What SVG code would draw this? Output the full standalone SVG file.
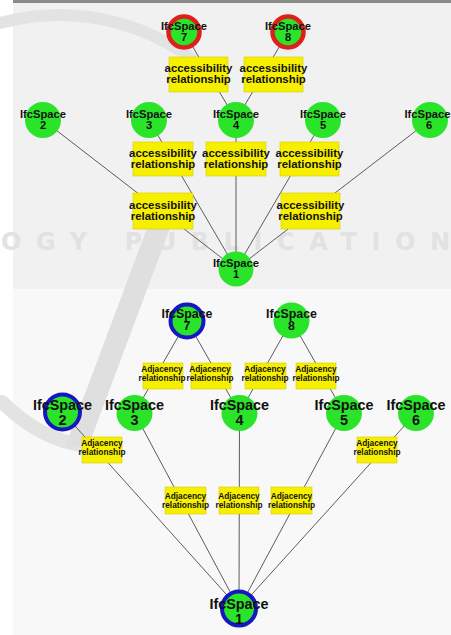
<svg xmlns="http://www.w3.org/2000/svg" width="451" height="635" viewBox="0 0 451 635">
  <style>
    .bg-top { fill: #f1f1f1; }
    .bg-bot { fill: #f8f8f8; }
    .wm-line { fill: none; stroke: #e3e3e3; stroke-linecap: round; }
    .wm-text { font-family: "DejaVu Sans", sans-serif; font-weight: bold; fill: #e2e2e2; text-anchor: start; }
    .e { stroke: #5c5c5c; stroke-width: 1; fill: none; }
    .n { fill: #2ae42a; }
    .ring-red { stroke: #de1f1c; stroke-width: 4.5; }
    .ring-blue { stroke: #1616c2; stroke-width: 4; }
    .lbl { fill: #f7ef00; stroke: #d6cc00; stroke-width: 0.6; }
    text { font-family: "Liberation Sans", Arial, sans-serif; font-weight: bold; fill: #111; text-anchor: middle; }
    .t-sm { font-size: 11.2px; }
    .t-acc { font-size: 11.4px; }
    .t-adj { font-size: 8.3px; }
    .t-mid { font-size: 12.4px; }
    .t-big { font-size: 14.4px; }
  </style>

  <!-- page and the two panels -->
  <rect x="0" y="0" width="451" height="635" fill="#ffffff"/>
  <rect class="bg-top" x="13" y="3" width="438" height="286"/>
  <rect x="13" y="0" width="438" height="3" fill="#8a8a8a"/>
  <rect class="bg-bot" x="13" y="289" width="438" height="346"/>

  <!-- faint publisher watermark -->
  <g id="watermark">
    <text class="wm-text" x="1" y="250" font-size="24" textLength="449" lengthAdjust="spacing">OGY PUBLICATION</text>
    <path class="wm-line" stroke-width="12" d="M 0 23 A 225 225 0 0 1 215 78"/>
    <path class="wm-line" stroke-width="14" d="M 2 402 Q 40 440 86 446"/>
    <polygon points="152,215 175,215 88,447 65,447" fill="#dfdfdf"/>
  </g>

  <!-- connectors -->
  <g id="connectors">
    <!-- accessibility graph -->
    <line class="e" x1="184" y1="32" x2="236" y2="120"/>
    <line class="e" x1="288" y1="32" x2="236" y2="120"/>
    <line class="e" x1="43" y1="120" x2="236" y2="269"/>
    <line class="e" x1="149" y1="120" x2="236" y2="269"/>
    <line class="e" x1="236" y1="120" x2="236" y2="269"/>
    <line class="e" x1="323" y1="120" x2="236" y2="269"/>
    <line class="e" x1="430" y1="120" x2="236" y2="269"/>
    <!-- adjacency graph -->
    <line class="e" x1="187" y1="321" x2="134.5" y2="413"/>
    <line class="e" x1="187" y1="321" x2="239.5" y2="413"/>
    <line class="e" x1="291.5" y1="320.5" x2="239.5" y2="413"/>
    <line class="e" x1="291.5" y1="320.5" x2="344" y2="413"/>
    <line class="e" x1="62.5" y1="412" x2="239" y2="608.5"/>
    <line class="e" x1="134.5" y1="413" x2="239" y2="608.5"/>
    <line class="e" x1="239.5" y1="413" x2="239" y2="608.5"/>
    <line class="e" x1="344" y1="413" x2="239" y2="608.5"/>
    <line class="e" x1="416" y1="413" x2="239" y2="608.5"/>
  </g>

  <!-- accessibility relationship labels -->
  <g id="acc-7-4"><rect class="lbl" x="169" y="57" width="59" height="35"/>
    <text class="t-acc" x="198.5" y="71.5">accessibility<tspan x="198.5" dy="11">relationship</tspan></text></g>
  <g id="acc-8-4"><rect class="lbl" x="244" y="57" width="59" height="35"/>
    <text class="t-acc" x="273.5" y="71.5">accessibility<tspan x="273.5" dy="11">relationship</tspan></text></g>
  <g id="acc-3-1"><rect class="lbl" x="133" y="142" width="60" height="34"/>
    <text class="t-acc" x="163" y="157">accessibility<tspan x="163" dy="11">relationship</tspan></text></g>
  <g id="acc-4-1"><rect class="lbl" x="206" y="142" width="60" height="34"/>
    <text class="t-acc" x="236" y="157">accessibility<tspan x="236" dy="11">relationship</tspan></text></g>
  <g id="acc-5-1"><rect class="lbl" x="280" y="142" width="59" height="34"/>
    <text class="t-acc" x="309.5" y="157">accessibility<tspan x="309.5" dy="11">relationship</tspan></text></g>
  <g id="acc-2-1"><rect class="lbl" x="133" y="193" width="60" height="36"/>
    <text class="t-acc" x="163" y="208.5">accessibility<tspan x="163" dy="11">relationship</tspan></text></g>
  <g id="acc-6-1"><rect class="lbl" x="281" y="193" width="59" height="36"/>
    <text class="t-acc" x="310.5" y="208.5">accessibility<tspan x="310.5" dy="11">relationship</tspan></text></g>

  <!-- accessibility graph nodes -->
  <g id="a-space7"><circle class="n ring-red" cx="184" cy="32" r="15.5"/>
    <text class="t-sm" x="184" y="30">IfcSpace<tspan x="184" dy="10.8">7</tspan></text></g>
  <g id="a-space8"><circle class="n ring-red" cx="288" cy="32" r="15.5"/>
    <text class="t-sm" x="288" y="30">IfcSpace<tspan x="288" dy="10.8">8</tspan></text></g>
  <g id="a-space2"><circle class="n" cx="43" cy="120" r="18"/>
    <text class="t-sm" x="43" y="118">IfcSpace<tspan x="43" dy="11">2</tspan></text></g>
  <g id="a-space3"><circle class="n" cx="149" cy="120" r="18"/>
    <text class="t-sm" x="149" y="118">IfcSpace<tspan x="149" dy="11">3</tspan></text></g>
  <g id="a-space4"><circle class="n" cx="236" cy="120" r="18"/>
    <text class="t-sm" x="236" y="118">IfcSpace<tspan x="236" dy="11">4</tspan></text></g>
  <g id="a-space5"><circle class="n" cx="323" cy="120" r="18"/>
    <text class="t-sm" x="323" y="118">IfcSpace<tspan x="323" dy="11">5</tspan></text></g>
  <g id="a-space6"><circle class="n" cx="430" cy="120" r="18"/>
    <text class="t-sm" x="427.5" y="118">IfcSpace<tspan x="429" dy="11">6</tspan></text></g>
  <g id="a-space1"><circle class="n" cx="236" cy="269" r="17.5"/>
    <text class="t-sm" x="236" y="267">IfcSpace<tspan x="236" dy="11">1</tspan></text></g>

  <!-- adjacency relationship labels -->
  <g id="adj-7-3"><rect class="lbl" x="143" y="363" width="40" height="26"/>
    <text class="t-adj" x="162" y="372">Adjacency<tspan x="162" dy="8.5">relationship</tspan></text></g>
  <g id="adj-7-4"><rect class="lbl" x="191" y="363" width="40" height="26"/>
    <text class="t-adj" x="210" y="372">Adjacency<tspan x="210" dy="8.5">relationship</tspan></text></g>
  <g id="adj-8-4"><rect class="lbl" x="245" y="363" width="41" height="26"/>
    <text class="t-adj" x="265" y="372">Adjacency<tspan x="265" dy="8.5">relationship</tspan></text></g>
  <g id="adj-8-5"><rect class="lbl" x="296" y="363" width="40" height="26"/>
    <text class="t-adj" x="316" y="372">Adjacency<tspan x="316" dy="8.5">relationship</tspan></text></g>
  <g id="adj-2-1"><rect class="lbl" x="82" y="437" width="40" height="26"/>
    <text class="t-adj" x="102" y="446">Adjacency<tspan x="102" dy="8.5">relationship</tspan></text></g>
  <g id="adj-6-1"><rect class="lbl" x="357" y="437" width="40" height="26"/>
    <text class="t-adj" x="377" y="446">Adjacency<tspan x="377" dy="8.5">relationship</tspan></text></g>
  <g id="adj-3-1"><rect class="lbl" x="165" y="487" width="41" height="27"/>
    <text class="t-adj" x="185.5" y="499">Adjacency<tspan x="185.5" dy="8.5">relationship</tspan></text></g>
  <g id="adj-4-1"><rect class="lbl" x="219" y="487" width="40" height="27"/>
    <text class="t-adj" x="239" y="499">Adjacency<tspan x="239" dy="8.5">relationship</tspan></text></g>
  <g id="adj-5-1"><rect class="lbl" x="271" y="487" width="41" height="27"/>
    <text class="t-adj" x="291.5" y="499">Adjacency<tspan x="291.5" dy="8.5">relationship</tspan></text></g>

  <!-- adjacency graph nodes -->
  <g id="b-space7"><circle class="n ring-blue" cx="187" cy="321" r="16.5"/>
    <text class="t-mid" x="187" y="317.5">IfcSpace<tspan x="187" dy="12.8">7</tspan></text></g>
  <g id="b-space8"><circle class="n" cx="291.5" cy="320.5" r="18"/>
    <text class="t-mid" x="291.5" y="317.5">IfcSpace<tspan x="291.5" dy="12.8">8</tspan></text></g>
  <g id="b-space2"><circle class="n ring-blue" cx="62.5" cy="412" r="17.5"/>
    <text class="t-big" x="62.5" y="410">IfcSpace<tspan x="62.5" dy="14.8">2</tspan></text></g>
  <g id="b-space3"><circle class="n" cx="134.5" cy="413" r="18"/>
    <text class="t-big" x="134.5" y="410">IfcSpace<tspan x="134.5" dy="14.8">3</tspan></text></g>
  <g id="b-space4"><circle class="n" cx="239.5" cy="413" r="18"/>
    <text class="t-big" x="239.5" y="410">IfcSpace<tspan x="239.5" dy="14.8">4</tspan></text></g>
  <g id="b-space5"><circle class="n" cx="344" cy="413" r="18"/>
    <text class="t-big" x="344" y="410">IfcSpace<tspan x="344" dy="14.8">5</tspan></text></g>
  <g id="b-space6"><circle class="n" cx="416" cy="413" r="18"/>
    <text class="t-big" x="416" y="410">IfcSpace<tspan x="416" dy="14.8">6</tspan></text></g>
  <g id="b-space1"><circle class="n ring-blue" cx="239" cy="608.5" r="17"/>
    <text class="t-big" x="239" y="609">IfcSpace<tspan x="239" dy="14.8">1</tspan></text></g>
</svg>
